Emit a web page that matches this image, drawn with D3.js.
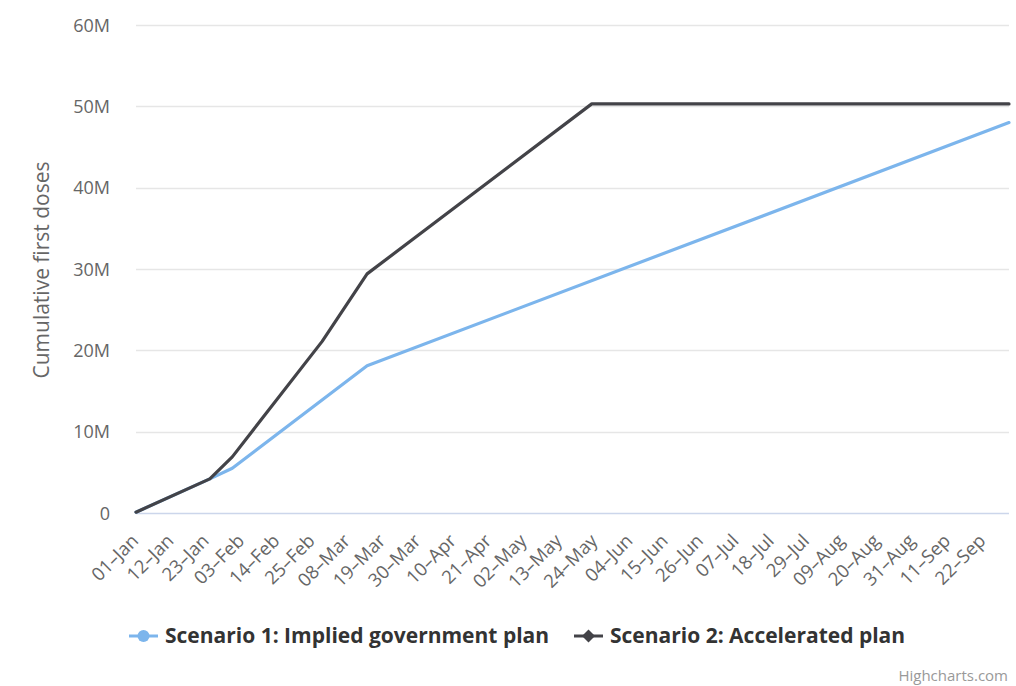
<!DOCTYPE html>
<html>
<head>
<meta charset="utf-8">
<script src="https://cdn.jsdelivr.net/npm/d3@7"></script>
<style>
  html, body { margin: 0; padding: 0; background: #ffffff; }
  svg { display: block; font-family: "Open Sans", "DejaVu Sans", sans-serif; }
</style>
</head>
<body>
<svg id="chart" width="1016" height="686"></svg>
<script>
// ---- data ----
const seriesNames = ["Scenario 1: Implied government plan", "Scenario 2: Accelerated plan"];
const seriesColors = ["#7cb5ec", "#434348"];
const scenario1Dates = ["2021-01-01", "2021-01-24", "2021-01-31", "2021-03-14", "2021-09-30"];
const scenario1Values = [0.1, 4.2, 5.5, 18.1, 48.0];
const scenario2Dates = ["2021-01-01", "2021-01-24", "2021-01-31", "2021-02-28", "2021-03-14", "2021-05-23", "2021-09-30"];
const scenario2Values = [0.1, 4.2, 6.9, 21.1, 29.4, 50.3, 50.3];
const xTickLabels = ["01–Jan","12–Jan","23–Jan","03–Feb","14–Feb","25–Feb","08–Mar","19–Mar","30–Mar","10–Apr","21–Apr","02–May","13–May","24–May","04–Jun","15–Jun","26–Jun","07–Jul","18–Jul","29–Jul","09–Aug","20–Aug","31–Aug","11–Sep","22–Sep"];
const yTicks = [0, 10, 20, 30, 40, 50, 60];
const yTitle = "Cumulative first doses";
const credit = "Highcharts.com";

// ---- layout ----
const svg = d3.select("#chart");
const plot = { left: 136, right: 1009, top: 25, bottom: 513 };
const parseDate = d3.timeParse("%Y-%m-%d");
const parseTick = d3.timeParse("%d-%b-%Y");

const x = d3.scaleTime()
  .domain([parseDate("2021-01-01"), parseDate("2021-09-30")])
  .range([plot.left, plot.right]);
const y = d3.scaleLinear().domain([0, 60]).range([plot.bottom, plot.top]);

// gridlines
svg.append("g").selectAll("line").data(yTicks.filter(d => d > 0)).join("line")
  .attr("x1", plot.left).attr("x2", plot.right)
  .attr("y1", d => Math.round(y(d)) + 0.5).attr("y2", d => Math.round(y(d)) + 0.5)
  .attr("stroke", "#e6e6e6").attr("stroke-width", 1.5);

// y axis labels
const yAxis = d3.axisLeft(y).tickValues(yTicks).tickSize(0).tickPadding(0)
  .tickFormat(d => d === 0 ? "0" : d + "M");
const yg = svg.append("g").attr("transform", `translate(${110},0)`).call(yAxis);
yg.select(".domain").remove();
yg.selectAll("text").attr("fill", "#666666").style("font-size", "18px")
  .style("font-family", "'Open Sans', sans-serif").attr("dy", "0.35em");

// x axis line
svg.append("line").attr("x1", plot.left).attr("x2", plot.right)
  .attr("y1", plot.bottom + 0.5).attr("y2", plot.bottom + 0.5)
  .attr("stroke", "#ccd6eb").attr("stroke-width", 1.5);

// x axis labels
const tickDates = xTickLabels.map(l => parseTick(l.replace("–", "-") + "-2021"));
const xAxis = d3.axisBottom(x).tickValues(tickDates).tickSize(0)
  .tickFormat((d, i) => xTickLabels[i]);
const xg = svg.append("g").attr("transform", `translate(0,${plot.bottom})`).call(xAxis);
xg.select(".domain").remove();
xg.selectAll("text")
  .attr("fill", "#666666").style("font-size", "18.5px")
  .style("font-family", "'Open Sans', sans-serif")
  .attr("text-anchor", "end")
  .attr("y", 0).attr("dy", 0)
  .attr("transform", "translate(3,29) rotate(-45)");

// y axis title
svg.append("text")
  .attr("transform", `translate(49,${270}) rotate(-90)`)
  .attr("text-anchor", "middle")
  .attr("fill", "#666666").style("font-size", "21px")
  .text(yTitle);

// lines
const line = d3.line().x(d => x(d.date)).y(d => y(d.value));
const s1 = scenario1Dates.map((d, i) => ({ date: parseDate(d), value: scenario1Values[i] }));
const s2 = scenario2Dates.map((d, i) => ({ date: parseDate(d), value: scenario2Values[i] }));
[s1, s2].forEach((s, i) => {
  svg.append("path").datum(s).attr("d", line)
    .attr("fill", "none").attr("stroke", seriesColors[i])
    .attr("stroke-width", 3.2).attr("stroke-linejoin", "round").attr("stroke-linecap", "round");
});

// legend
const legendY = 636;
const legendItems = [{ x: 129, marker: "circle" }, { x: 574, marker: "diamond" }];
legendItems.forEach((it, i) => {
  const g = svg.append("g").attr("transform", `translate(${it.x},${legendY})`);
  g.append("line").attr("x1", 0).attr("x2", 29).attr("y1", 0).attr("y2", 0)
    .attr("stroke", seriesColors[i]).attr("stroke-width", 3);
  if (it.marker === "circle") {
    g.append("circle").attr("cx", 14.5).attr("cy", 0).attr("r", 6).attr("fill", seriesColors[i]);
  } else {
    g.append("path").attr("d", "M14.5,-6.5 L21,0 L14.5,6.5 L8,0 Z").attr("fill", seriesColors[i]);
  }
  g.append("text").attr("x", 36).attr("y", 0).attr("dy", "0.35em")
    .attr("fill", "#333333").style("font-size", "21px").style("font-weight", "bold")
    .text(seriesNames[i]);
});

// credit
svg.append("text").attr("x", 1008).attr("y", 681).attr("text-anchor", "end")
  .attr("fill", "#999999").style("font-size", "15px").text(credit);
</script>
</body>
</html>
